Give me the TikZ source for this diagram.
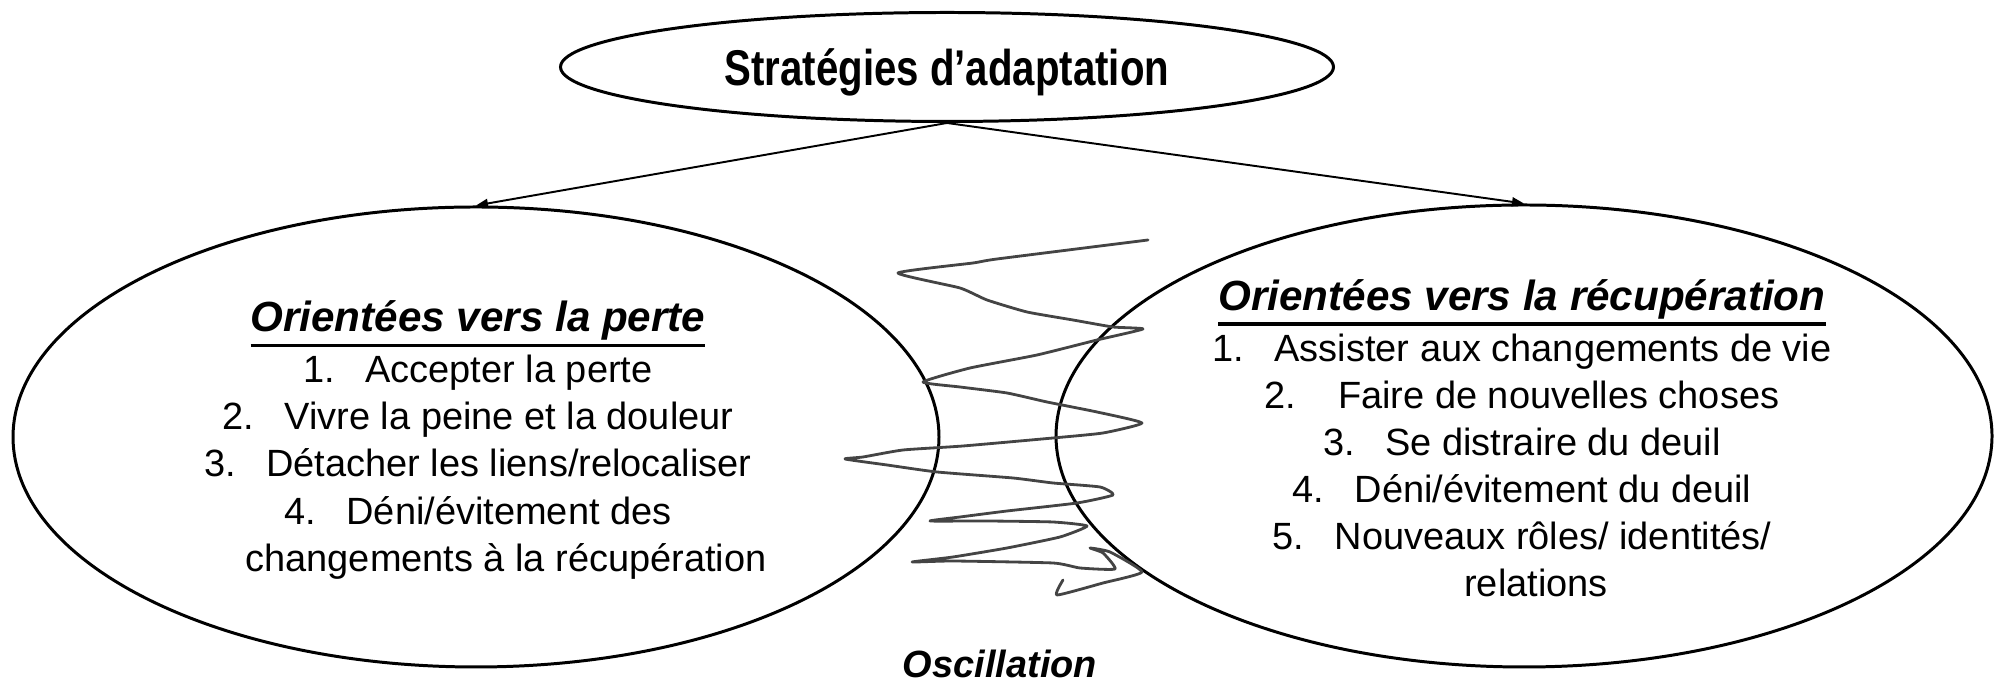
\documentclass[tikz,border=0pt]{standalone}
\usepackage{fontspec}
\setmainfont{Liberation Sans}
\newfontfamily\titelfont[FakeStretch = 0.8]{Liberation Sans}
\usetikzlibrary{shapes.geometric, arrows.meta}
\definecolor{stift}{HTML}{444444}
\newsavebox\kopfbox
\newcommand{\kopf}[1]{\sbox\kopfbox{\fontsize{12pt}{13.4pt}\selectfont\bfseries\itshape #1}%
	\rlap{\rule[-4.4pt]{\wd\kopfbox}{0.9pt}}\usebox\kopfbox}

\begin{document}
\begin{tikzpicture}[x = 0.1mm, y = -0.1mm]
		\tikzstyle{every node} = [font = \fontsize{10.8pt}{13.4pt}\selectfont]
		\tikzstyle{oval} = [draw, ellipse, line width = 0.85pt, inner sep = 0mm]
		\tikzstyle{pfeil} = [line width = 0.55pt, -{Triangle[length = 1.2mm, width = 0.9mm]}]

\useasboundingbox (0,0) rectangle (1999,682);

% Ellipsen
\node[oval, minimum width = 77.3mm, minimum height = 10.9mm] (titel) at (947,67) {};
\node[oval, minimum width = 92.6mm, minimum height = 46mm] (perte) at (476,437) {};
\node[oval, minimum width = 93.6mm, minimum height = 46.2mm] (recup) at (1524,436) {};

% Pfeile
\draw[pfeil] (titel.south) -- (perte.north);
\draw[pfeil] (titel.south) -- (recup.north);

% Oszillation
\draw[draw = stift, line width = 0.8pt, line cap = round, line join = round]
	plot[smooth, tension = 0.3] coordinates {
	(1148,240) (997,259) (973,263) (898,273)
	(960,288) (987,300) (1027,312) (1073,320) (1113,327) (1143,329)
	(1097,340) (1037,355) (970,368) (923,382)
	(960,387) (1007,393) (1047,402) (1097,412) (1142,423)
	(1103,433) (1053,438) (963,446) (903,450) (863,457) (845,459)
	(887,465) (937,472) (1013,478) (1053,483) (1100,487) (1113,495)
	(1077,503) (1007,511) (960,517) (930,521)
	(987,521) (1053,522) (1087,526)
	(1060,537) (1007,548) (953,557) (912,562)
	(953,561) (1053,563) (1080,568) (1115,569)
	(1103,553) (1090,548) (1110,552) (1142,572)
	(1103,583) (1057,595) (1063,580)};

% Texte
\node[font = \titelfont\bfseries\fontsize{14.3pt}{17pt}\selectfont]
	(titeltext) at (947,72) {Stratégies d’adaptation};
\node[align = center] (pertetext) at (478,440) {%
	\kopf{Orientées vers la perte}\\[1.1pt]
	1.\hspace{0.8em}Accepter la perte\\
	2.\hspace{0.8em}Vivre la peine et la douleur\\
	3.\hspace{0.8em}Détacher les liens/relocaliser\\
	4.\hspace{0.8em}Déni/évitement des\\
	\hspace*{16pt}changements à la récupération};
\node[align = center] (recuptext) at (1522,438) {%
	\kopf{Orientées vers la récupération}\\[1.1pt]
	1.\hspace{0.8em}Assister aux changements de vie\\
	2.\hspace{1.1em}Faire de nouvelles choses\\
	3.\hspace{0.8em}Se distraire du deuil\\
	4.\hspace{0.8em}Déni/évitement du deuil\\
	5.\hspace{0.8em}Nouveaux rôles/ identités/\hspace*{6pt}\\
	\hspace*{8pt}relations};
\node[font = \fontsize{10.8pt}{13pt}\selectfont\bfseries\itshape] (osz) at (1000,664) {Oscillation};

	\end{tikzpicture}
\end{document}
